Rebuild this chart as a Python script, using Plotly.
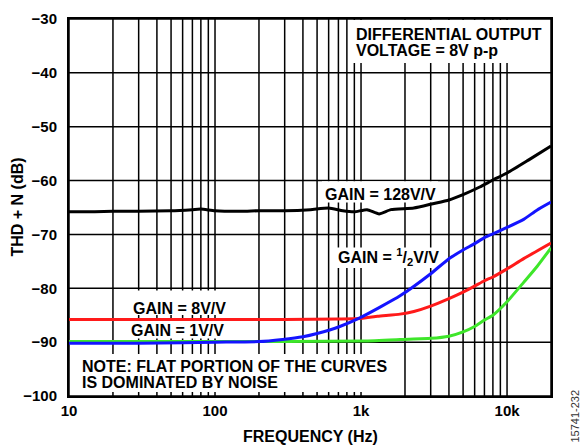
import math
import plotly.graph_objects as go

# ---- data ----
f_black = [10, 15, 20, 30, 50, 70, 80, 100, 150, 200, 300, 450, 600, 750, 900, 1100, 1330, 1600, 2300, 3100, 4000, 5000, 6500, 8000, 10000, 14000, 20000]
v_black = [-65.8, -65.8, -65.7, -65.7, -65.6, -65.4, -65.3, -65.6, -65.7, -65.6, -65.6, -65.4, -65.1, -65.6, -65.8, -65.4, -66.2, -65.4, -65.1, -64.3, -63.6, -62.6, -61.2, -59.9, -58.6, -56.2, -53.6]

f_blue = [10, 30, 60, 100, 200, 290, 400, 500, 716, 980, 1350, 1850, 3000, 4000, 5000, 6000, 7000, 8000, 10000, 13000, 16000, 20000]
v_blue = [-90.2, -90.2, -90.1, -90.0, -89.9, -89.5, -89.0, -88.4, -87.1, -85.5, -83.5, -81.4, -77.3, -74.5, -72.9, -71.7, -70.6, -69.9, -68.7, -67.2, -65.5, -64.0]

f_red = [10, 100, 300, 700, 1000, 1300, 1850, 2300, 3000, 4000, 5000, 6000, 7000, 8000, 10000, 13000, 20000]
v_red = [-85.8, -85.8, -85.8, -85.7, -85.6, -85.2, -84.8, -84.3, -83.3, -81.9, -80.7, -79.6, -78.6, -77.9, -76.4, -74.5, -71.6]

f_green = [10, 100, 1000, 1850, 3000, 4000, 5000, 6000, 7000, 8000, 10000, 13000, 16000, 20000]
v_green = [-89.9, -89.9, -89.8, -89.5, -89.3, -88.9, -88.1, -87.1, -85.9, -85.0, -82.5, -78.9, -76.0, -72.5]

x_tickvals = [m * d for d in (10, 100, 1000, 10000) for m in range(1, 10) if m * d <= 20000]
x_ticktext = {10: "10", 100: "100", 1000: "1k", 10000: "10k"}
y_tickvals = [-100, -90, -80, -70, -60, -50, -40, -30]
y_ticktext = ["\u2212100", "\u221290", "\u221280", "\u221270", "\u221260", "\u221250", "\u221240", "\u221230"]

XMIN, XMAX = 10, 20000
YMIN, YMAX = -100, -30
FONT = "Liberation Sans, Arial, Helvetica, sans-serif"

fig = go.Figure()
for fx, vy, col in [(f_green, v_green, "#3ee62a"), (f_red, v_red, "#ff1a1a"),
                    (f_blue, v_blue, "#1414ff"), (f_black, v_black, "#000000")]:
    fig.add_trace(go.Scatter(x=fx, y=vy, mode="lines",
                             line=dict(color=col, width=3, shape="spline", smoothing=0.5),
                             hoverinfo="skip", showlegend=False))

# grid lines (drawn as below-layer shapes so label backgrounds can mask them)
lx0, lx1 = math.log10(XMIN), math.log10(XMAX)
for v in x_tickvals:
    fx = (math.log10(v) - lx0) / (lx1 - lx0)
    fig.add_shape(type="line", xref="x domain", yref="y domain", x0=fx, x1=fx, y0=0, y1=1,
                  line=dict(color="black", width=1.5), layer="below")
for v in y_tickvals:
    fy = (v - YMIN) / (YMAX - YMIN)
    fig.add_shape(type="line", xref="x domain", yref="y domain", x0=0, x1=1, y0=fy, y1=fy,
                  line=dict(color="black", width=1.5), layer="below")

def px2paper(px, py):
    return (px - 69) / 482, (396 - py) / 386

# white label backgrounds (above grid, below curves)
boxes = [(350, 11, 550, 55), (322, 176, 438, 198), (334, 244, 442, 265),
         (130, 288, 228, 313), (128, 319, 227, 337), (75, 353, 390, 392)]
for x0, y0, x1, y1 in boxes:
    a0, b1 = px2paper(x0, y0)
    a1, b0 = px2paper(x1, y1)
    fig.add_shape(type="rect", xref="x domain", yref="y domain", x0=a0, x1=a1, y0=b0, y1=b1,
                  fillcolor="white", line=dict(width=0), layer="below")

labels = [
    ("DIFFERENTIAL OUTPUT", 354, 26, "left"),
    ("VOLTAGE = 8V p-p", 354, 42.5, "left"),
    ("GAIN = 128V/V", 380, 190, "center"),
    ("GAIN = <sup>1</sup>/<sub>2</sub>V/V", 388, 254, "center"),
    ("GAIN = 8V/V", 179, 306, "center"),
    ("GAIN = 1V/V", 177.5, 329, "center"),
    ("NOTE: FLAT PORTION OF THE CURVES", 80, 365.7, "left"),
    ("IS DOMINATED BY NOISE", 80, 382.3, "left"),
]
for txt, px, py, anc in labels:
    ax, ay = px2paper(px, py)
    fig.add_annotation(text=txt, x=ax, y=ay, xref="paper", yref="paper", xanchor=anc,
                       yanchor="middle", showarrow=False,
                       font=dict(family=FONT, size=16, color="black", weight="bold"))

ax, ay = px2paper(310, 437)
fig.add_annotation(text="FREQUENCY (Hz)", x=0.5, y=ay, xref="paper", yref="paper",
                   xanchor="center", yanchor="middle",
                   showarrow=False, font=dict(family=FONT, size=16, color="black", weight="bold"))
ax, ay = px2paper(17, 203)
fig.add_annotation(text="THD + N (dB)", x=ax, y=0.5, xref="paper", yref="paper", textangle=-90,
                   xanchor="center", yanchor="middle",
                   showarrow=False, font=dict(family=FONT, size=16, color="black", weight="bold"))
ax, ay = px2paper(575, 417)
fig.add_annotation(text="15741-232", x=ax, y=ay, xref="paper", yref="paper", textangle=-90,
                   xanchor="center", yanchor="middle",
                   showarrow=False, font=dict(family=FONT, size=11, color="#333333"))

fig.update_layout(
    width=582, height=448,
    margin=dict(l=69, r=31, t=10, b=52),
    paper_bgcolor="white", plot_bgcolor="white",
    font=dict(family=FONT, size=15, color="black"),
    xaxis=dict(type="log", range=[lx0, lx1], tickvals=x_tickvals,
               ticktext=[x_ticktext.get(v, "") for v in x_tickvals],
               showgrid=False,
               showline=True, linecolor="black", linewidth=2, mirror=True,
               ticks="", ticklabelstandoff=0,
               tickfont=dict(family=FONT, size=15, color="black", weight="bold"),
               zeroline=False),
    yaxis=dict(range=[YMIN, YMAX], tickvals=y_tickvals, ticktext=y_ticktext,
               showgrid=False,
               showline=True, linecolor="black", linewidth=2, mirror=True,
               ticks="", ticklabelstandoff=7,
               tickfont=dict(family=FONT, size=15, color="black", weight="bold"),
               zeroline=False),
)

fig.write_html("out.html", config={"displayModeBar": False},
               post_script="document.body.style.margin='0';document.body.style.padding='0';")
